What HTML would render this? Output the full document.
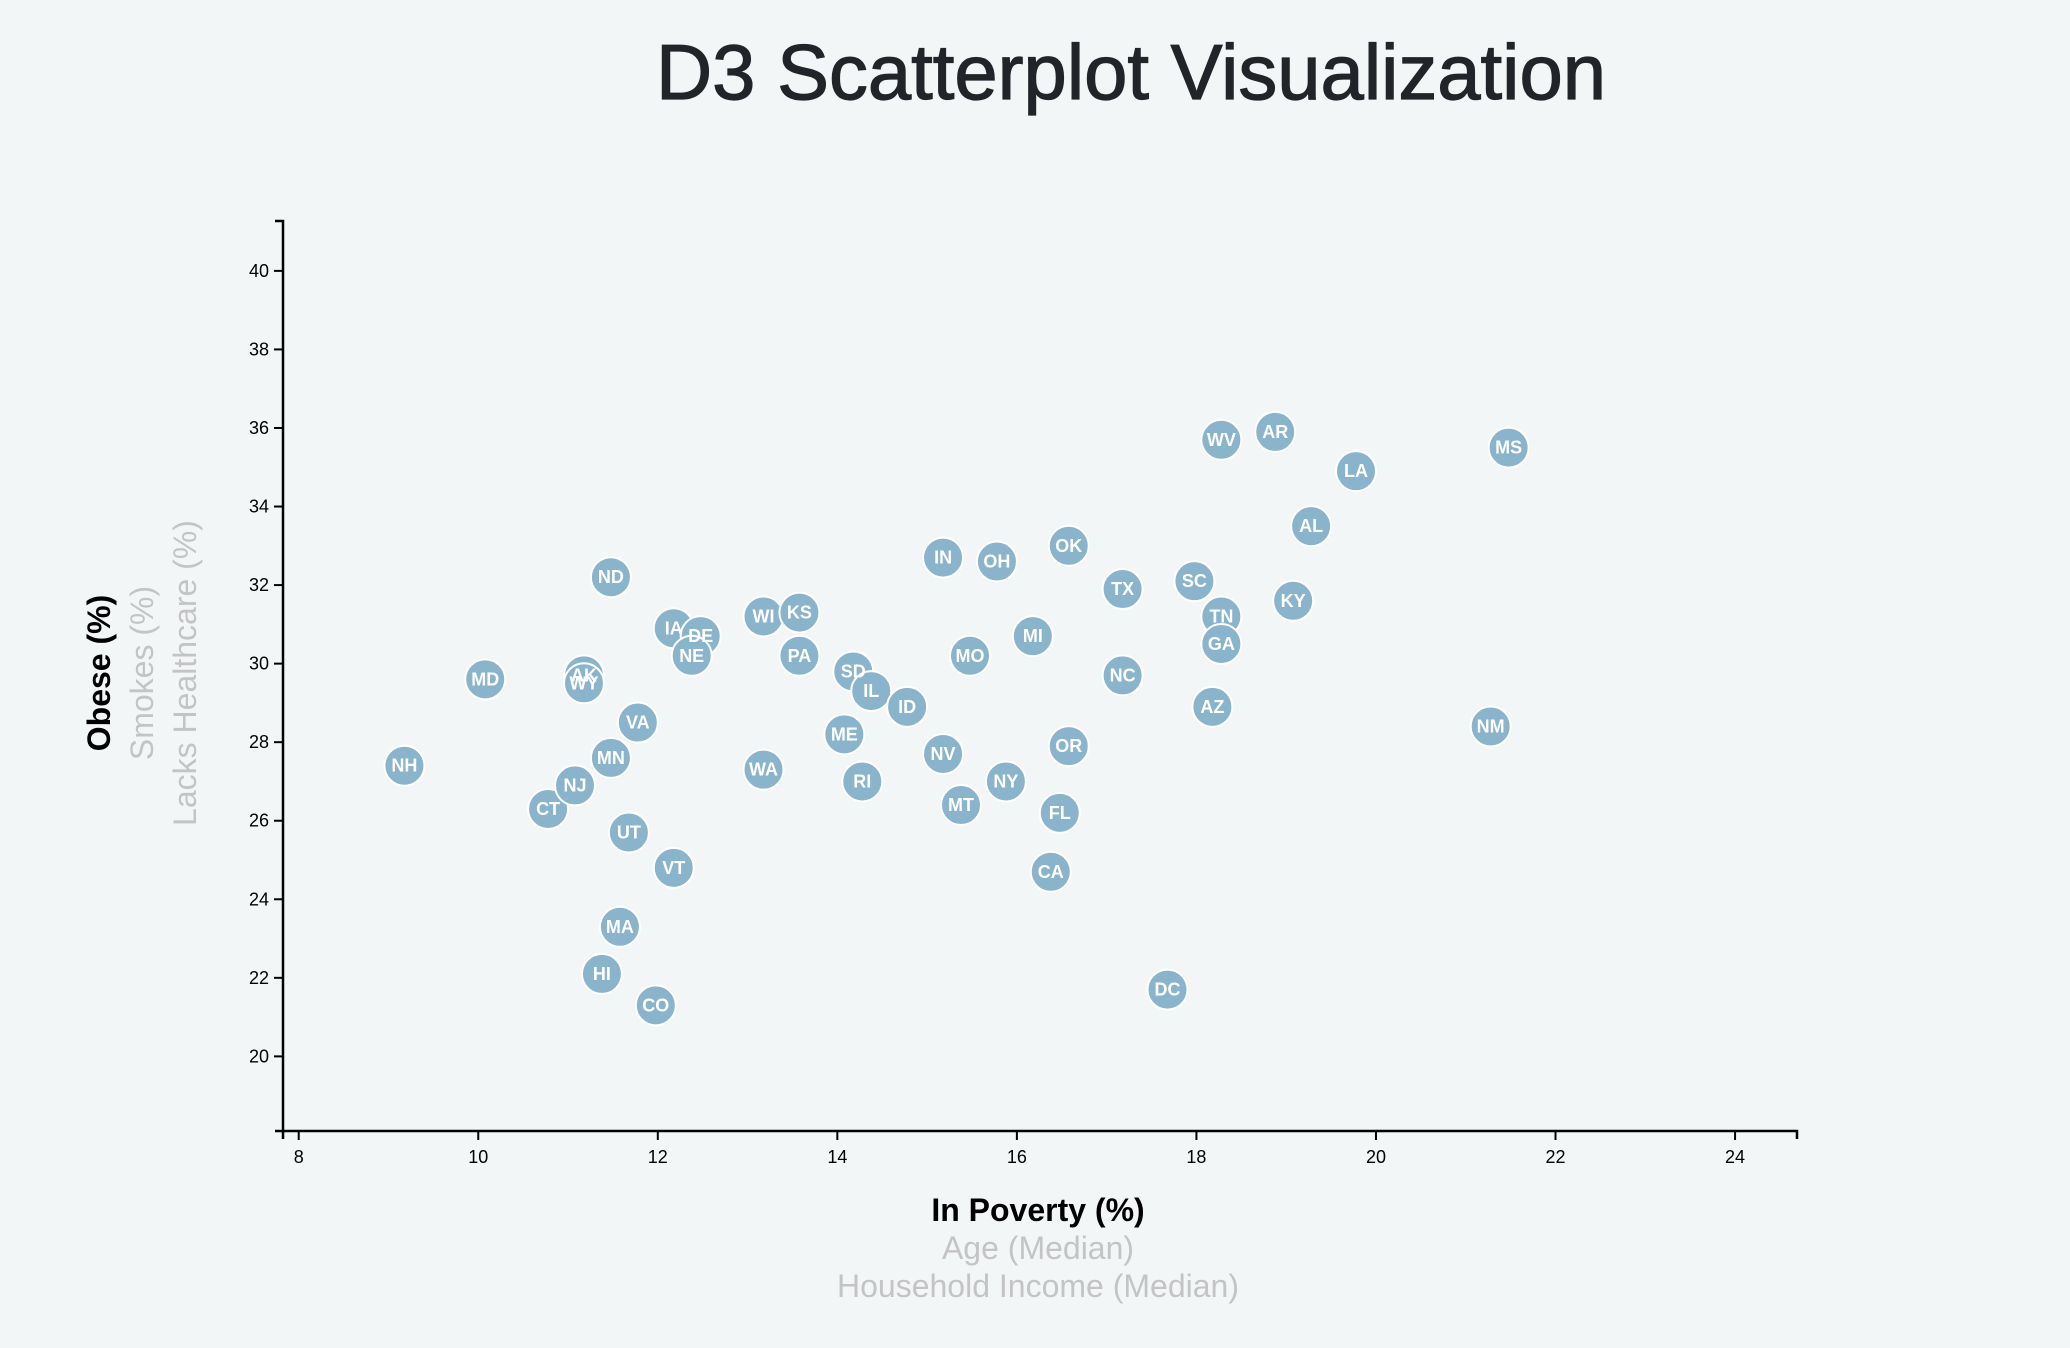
<!DOCTYPE html>
<html><head><meta charset="utf-8">
<style>
html,body{margin:0;padding:0;background:#f3f6f7;}
svg{display:block;font-family:"Liberation Sans",Helvetica,Arial,sans-serif;}
</style></head>
<body>
<svg id="chart" width="2070" height="1348">
<rect width="2070" height="1348" fill="#f3f6f7"/>
<text x="1131" y="99" text-anchor="middle" font-size="78" fill="#212529" stroke="#212529" stroke-width="1.2" textLength="950" lengthAdjust="spacingAndGlyphs">D3 Scatterplot Visualization</text>
<g id="axes"></g>
<g id="points"></g>
<text x="1038" y="1221" text-anchor="middle" font-size="32" font-weight="bold" fill="#000">In Poverty (%)</text>
<text x="1038" y="1259" text-anchor="middle" font-size="32" fill="#c4c4c4">Age (Median)</text>
<text x="1038" y="1297" text-anchor="middle" font-size="32" fill="#c4c4c4">Household Income (Median)</text>
<text transform="translate(110,673) rotate(-90)" text-anchor="middle" font-size="32" font-weight="bold" fill="#000">Obese (%)</text>
<text transform="translate(153,673) rotate(-90)" text-anchor="middle" font-size="32" fill="#c4c4c4">Smokes (%)</text>
<text transform="translate(196,673) rotate(-90)" text-anchor="middle" font-size="32" fill="#c4c4c4">Lacks Healthcare (%)</text>
</svg>
<script>
const states = ["NH","MD","AK","WY","CT","NJ","MN","VA","UT","VT","MA","HI","CO","ND","IA","DE","NE","WI","KS","PA","WA","SD","IL","ID","ME","RI","IN","OH","MO","MI","NV","MT","NY","OK","OR","FL","CA","TX","NC","SC","TN","GA","AZ","DC","WV","AR","LA","AL","KY","MS","NM"];
const poverty = [9.2,10.1,11.2,11.2,10.8,11.1,11.5,11.8,11.7,12.2,11.6,11.4,12.0,11.5,12.2,12.5,12.4,13.2,13.6,13.6,13.2,14.2,14.4,14.8,14.1,14.3,15.2,15.8,15.5,16.2,15.2,15.4,15.9,16.6,16.6,16.5,16.4,17.2,17.2,18.0,18.3,18.3,18.2,17.7,18.3,18.9,19.8,19.3,19.1,21.5,21.3];
const obesity = [27.4,29.6,29.7,29.5,26.3,26.9,27.6,28.5,25.7,24.8,23.3,22.1,21.3,32.2,30.9,30.7,30.2,31.2,31.3,30.2,27.3,29.8,29.3,28.9,28.2,27.0,32.7,32.6,30.2,30.7,27.7,26.4,27.0,33.0,27.9,26.2,24.7,31.9,29.7,32.1,31.2,30.5,28.9,21.7,35.7,35.9,34.9,33.5,31.6,35.5,28.4];
const xTicks = [8,10,12,14,16,18,20,22,24];
const yTicks = [20,22,24,26,28,30,32,34,36,38,40];

const NS = "http://www.w3.org/2000/svg";
const X0 = 283, X1 = 1797, Y0 = 1131, Y1 = 221;
const xDom = [7.825, 24.69], yDom = [18.1, 41.27];
function xs(v){ return X0 + (v - xDom[0]) / (xDom[1] - xDom[0]) * (X1 - X0); }
function ys(v){ return Y0 - (v - yDom[0]) / (yDom[1] - yDom[0]) * (Y0 - Y1); }
function mk(tag, attrs, parent){ const e = document.createElementNS(NS, tag); for (const k in attrs) e.setAttribute(k, attrs[k]); parent.appendChild(e); return e; }

const axes = document.getElementById("axes");
const xa = mk("path", {d:`M${X0},${Y0+8}V${Y0}H${X1}V${Y0+8}`, fill:"none", stroke:"#000", "stroke-width":2.5}, axes);


const ya = mk("path", {d:`M${X0-8},${Y1}H${X0}V${Y0}H${X0-8}`, fill:"none", stroke:"#000", "stroke-width":2.5}, axes);



xTicks.forEach(t => {
  const x = xs(t);
  const l = mk("line", {x1:x, x2:x, y1:Y0, y2:Y0+9, stroke:"#000", "stroke-width":2}, axes);
  
  
  const tx = mk("text", {x:x, y:Y0+32, "text-anchor":"middle", "font-size":18, fill:"#000"}, axes);
  tx.textContent = t;
  
  
});
yTicks.forEach(t => {
  const y = ys(t);
  const l = mk("line", {x1:X0-9, x2:X0, y1:y, y2:y, stroke:"#000", "stroke-width":2}, axes);
  
  
  const tx = mk("text", {x:X0-14, y:y+6, "text-anchor":"end", "font-size":18, fill:"#000"}, axes);
  tx.textContent = t;
  
  
});

const pts = document.getElementById("points");
states.forEach((s, i) => {
  const cx = xs(poverty[i]) - 2, cy = ys(obesity[i]);
  const c = mk("circle", {cx:cx, cy:cy, r:20, fill:"#8ab4cb", stroke:"#ffffff", "stroke-width":2}, pts);
  
  
});
states.forEach((s, i) => {
  const cx = xs(poverty[i]) - 2, cy = ys(obesity[i]);
  const t = mk("text", {x:cx, y:cy+6, "text-anchor":"middle", "font-size":18, "font-weight":"bold", fill:"#ffffff"}, pts);
  t.textContent = s;
  
  
});
</script>
</body></html>
